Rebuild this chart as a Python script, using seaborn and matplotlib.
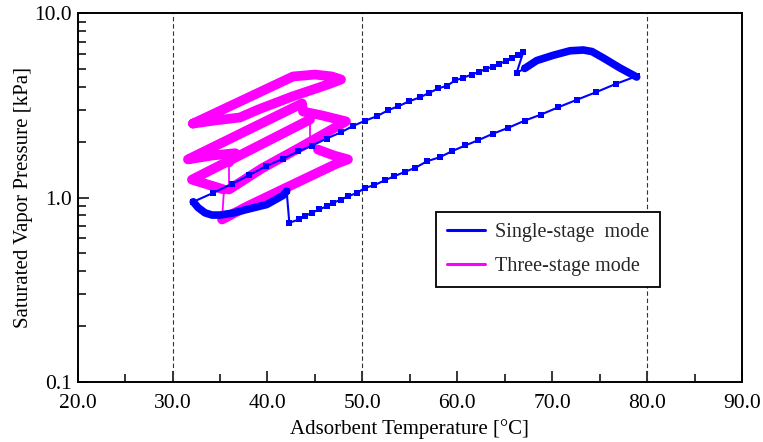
import numpy as np
import matplotlib
matplotlib.use("Agg")
import matplotlib.pyplot as plt
from matplotlib.lines import Line2D
from matplotlib.ticker import FixedLocator, NullFormatter, LogLocator
import seaborn as sns

# ---------------- data ----------------
x_ticks = [20, 30, 40, 50, 60, 70, 80, 90]
x_tick_labels = ["20.0", "30.0", "40.0", "50.0", "60.0", "70.0", "80.0", "90.0"]
y_ticks = [0.1, 1.0, 10.0]
y_tick_labels = ["0.1", "1.0", "10.0"]
ref_temps = [30, 50, 80]
series_names = ["Single-stage  mode", "Three-stage mode"]

# Single-stage mode
single_ads_T = [42.02, 41.67, 39.92, 37.81, 36.37, 35.0, 34.15, 33.41, 32.68, 32.18]
single_ads_P = [1.082, 1.029, 0.916, 0.861, 0.824, 0.803, 0.803, 0.826, 0.882, 0.948]

single_heat_T = [32.18, 34.29, 36.29, 38.05, 39.84, 41.60, 43.25, 44.72, 46.24, 47.75,
                 48.98, 50.27, 51.51, 52.73, 53.78, 54.94, 56.07, 57.05, 58.00, 58.95,
                 59.76, 60.63, 61.52, 62.29, 63.02, 63.73, 64.43, 65.10, 65.73, 66.43,
                 66.95, 66.25, 67.10]
single_heat_P = [0.948, 1.06, 1.187, 1.32, 1.479, 1.62, 1.78, 1.915, 2.09, 2.26,
                 2.44, 2.61, 2.76, 2.98, 3.13, 3.33, 3.50, 3.70, 3.91, 4.05,
                 4.32, 4.47, 4.65, 4.81, 5.00, 5.12, 5.32, 5.50, 5.73, 5.92,
                 6.15, 4.75, 5.02]

single_des_T = [67.10, 68.37, 70.12, 71.88, 73.28, 74.19, 75.39, 77.14, 78.90]
single_des_P = [5.02, 5.54, 5.92, 6.26, 6.32, 6.20, 5.72, 5.05, 4.51]

single_cool_T = [78.90, 76.72, 74.62, 72.58, 70.64, 68.82, 67.13, 65.37, 63.73, 62.21,
                 60.84, 59.44, 58.15, 56.81, 55.57, 54.49, 53.36, 52.38, 51.25, 50.27,
                 49.46, 48.51, 47.75, 46.93, 46.24, 45.46, 44.66, 43.95, 43.32, 42.30,
                 42.02]
single_cool_P = [4.56, 4.14, 3.73, 3.39, 3.09, 2.82, 2.618, 2.39, 2.217, 2.047,
                 1.917, 1.784, 1.654, 1.574, 1.449, 1.379, 1.305, 1.241, 1.166, 1.129,
                 1.06, 1.016, 0.975, 0.936, 0.897, 0.861, 0.826, 0.792, 0.760, 0.729,
                 1.082]

# Three-stage mode (three loops)
stage3_T = [32.15, 42.69, 45.0, 46.8, 47.75, 46.38, 42.58, 39.0, 37.1, 34.47, 32.15]
stage3_P = [2.52, 4.54, 4.65, 4.54, 4.37, 4.11, 3.53, 3.00, 2.72, 2.62, 2.52]

stage2_T = [35.94, 36.6, 34.15, 31.62, 43.64, 43.74, 45.74, 48.27, 43.43, 39.42, 35.94]
stage2_P = [1.55, 1.74, 1.69, 1.61, 3.24, 2.93, 2.79, 2.59, 1.87, 1.44, 1.105]
stage2_jump_T = [35.94, 35.94]
stage2_jump_P = [1.105, 1.55]

stage1_heat_T = [35.42, 32.04, 44.48]
stage1_heat_P = [1.105, 1.25, 2.65]
stage1_jump_a_T = [44.48, 44.48, 45.32]
stage1_jump_a_P = [2.65, 2.14, 1.82]
stage1_cool_T = [45.32, 47.01, 48.48, 47.32, 41.32, 37.84, 35.21]
stage1_cool_P = [1.82, 1.69, 1.61, 1.53, 1.09, 0.894, 0.76]
stage1_jump_b_T = [35.21, 35.42]
stage1_jump_b_P = [0.76, 1.105]

# ---------------- styling ----------------
sns.set_theme(style="ticks")
plt.rcParams["font.family"] = ["Liberation Serif", "DejaVu Serif"]
plt.rcParams["mathtext.fontset"] = "stix"

BLUE = "#0000FF"
PINK = "#FF00FF"

fig = plt.figure(figsize=(7.63, 4.42), dpi=100)
ax = fig.add_axes([0.1018, 0.1364, 0.8707, 0.8335])


def path(xs, ys, color, lw, z, marker=None, ms=0):
    kw = dict(x=np.asarray(xs), y=np.asarray(ys), sort=False, estimator=None,
              ax=ax, color=color, linewidth=lw, legend=False, zorder=z)
    if marker:
        kw.update(marker=marker, markersize=ms, markeredgewidth=0)
    sns.lineplot(**kw)


# reference temperatures
for t in ref_temps:
    ax.axvline(t, color="#333333", lw=0.8, dashes=(4, 2.5), zorder=1)

# three-stage loops (thick, dense points)
THICK_P = 7.0
path(stage3_T, stage3_P, PINK, THICK_P, 2)
path(stage2_T, stage2_P, PINK, THICK_P, 2)
path(stage1_heat_T, stage1_heat_P, PINK, THICK_P, 2)
path(stage1_cool_T, stage1_cool_P, PINK, THICK_P, 2)
path(stage2_jump_T, stage2_jump_P, PINK, 1.3, 2)
path(stage1_jump_a_T, stage1_jump_a_P, PINK, 1.3, 2)
path(stage1_jump_b_T, stage1_jump_b_P, PINK, 1.3, 2)

# single-stage loop
path(single_ads_T, single_ads_P, BLUE, 5.5, 3)
path(single_des_T, single_des_P, BLUE, 5.5, 3)
path(single_heat_T, single_heat_P, BLUE, 1.5, 3, marker="s", ms=4.0)
path(single_cool_T, single_cool_P, BLUE, 1.5, 3, marker="s", ms=4.0)

# axes
ax.set_yscale("log")
ax.set_xlim(20, 90)
ax.set_ylim(0.1, 10)
ax.set_xticks(x_ticks)
ax.set_xticklabels(x_tick_labels)
ax.xaxis.set_minor_locator(FixedLocator([25, 35, 45, 55, 65, 75, 85]))
ax.set_yticks(y_ticks)
ax.set_yticklabels(y_tick_labels)
ax.yaxis.set_minor_locator(LogLocator(base=10, subs=np.arange(2, 10)))
ax.yaxis.set_minor_formatter(NullFormatter())

ax.tick_params(which="both", direction="in", top=False, right=False,
               labelsize=15.5, colors="black", width=1.1)
ax.tick_params(which="major", length=8)
ax.tick_params(which="minor", length=6)
ax.tick_params(axis="x", which="both", pad=9)
ax.tick_params(axis="y", which="both", pad=4)
for s in ax.spines.values():
    s.set_visible(True)
    s.set_color("black")
    s.set_linewidth(1.4)

ax.set_xlabel("Adsorbent Temperature [°C]", fontsize=15, color="black", labelpad=4)
ax.set_ylabel("Saturated Vapor Pressure [kPa]", fontsize=15, color="black", labelpad=1)
ax.set_facecolor("white")
fig.patch.set_facecolor("white")

handles = [Line2D([0], [0], color=BLUE, lw=2.2), Line2D([0], [0], color=PINK, lw=2.2)]
leg = ax.legend(handles, series_names, loc="upper left", bbox_to_anchor=(0.539, 0.4615),
                borderaxespad=0, frameon=True, fancybox=False, framealpha=1,
                edgecolor="black", fontsize=14.5, handlelength=1.9, handletextpad=0.5,
                labelspacing=0.75, borderpad=0.55)
leg.get_frame().set_linewidth(1.3)

fig.savefig("out.png", dpi=100, facecolor="white")
